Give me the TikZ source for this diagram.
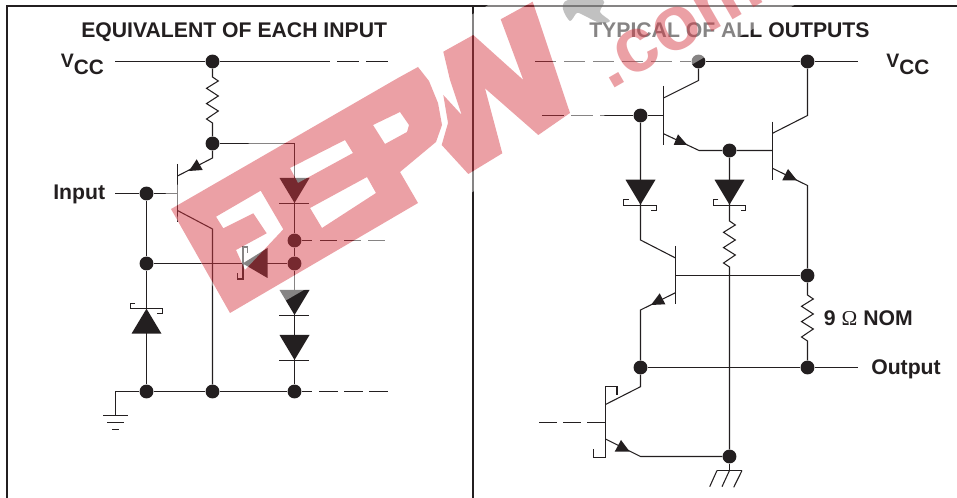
\documentclass[tikz,border=0pt]{standalone}
\usepackage{fontspec}
\setmainfont{Liberation Sans}
\newfontfamily\omegafont{Liberation Serif}
\definecolor{ink}{RGB}{35,31,32}
\definecolor{wm}{RGB}{213,53,64}
\tikzset{
  wire/.style={draw=ink,line width=0.8pt,line join=miter},
  frameline/.style={draw=ink,line width=1.6pt},
  dot/.style={circle,fill=ink,inner sep=0pt,minimum size=10.4pt,draw=none},
  tri/.style={fill=ink,draw=none},
  dashA/.style={wire,dash pattern=on 16.5pt off 5.25pt},
  dashC/.style={wire,dash pattern=on 14.25pt off 4.5pt},
  lab/.style={inner sep=0pt,anchor=base west,text=ink,font=\fontsize{15.9pt}{17pt}\selectfont\bfseries},
  wmfill/.style={fill=wm,opacity=.47,draw=none},
  halo/.style={fill=white,opacity=.45,draw=none,even odd rule},
}
\newcommand{\downdiode}[2]{\fill[tri] (#1-15,#2) -- (#1+15,#2) -- (#1,#2+25) -- cycle;}
\newcommand{\rzig}[2]{(#1,#2) -- (#1+5.8,#2+4) -- (#1-6,#2+11.3) -- (#1+5.8,#2+19) -- (#1-6,#2+26.6) -- (#1+5.8,#2+34) -- (#1-6,#2+42) -- (#1,#2+46)}
\newcommand{\vcctext}{{\fontsize{14.6pt}{15pt}\selectfont V}\raisebox{-4.6pt}{\fontsize{15.6pt}{15pt}\selectfont CC}}
\begin{document}
\begin{tikzpicture}[x=0.75pt,y=-0.75pt]
\useasboundingbox (0,0) rectangle (957,498);
% frame
\coordinate (ftl) at (7,6); \coordinate (fbl) at (7,498); \coordinate (ftr) at (957,6);
\coordinate (fmt) at (472.7,6); \coordinate (fmb) at (472.7,498);
\draw[frameline] (fbl) -- (ftl) -- (ftr);
\draw[frameline] (fmt) -- (fmb);
% titles
\node[lab] (t1) at (81,37.7) {EQUIVALENT OF EACH INPUT};
\node[lab] (t2) at (589,37.7) {TYPICAL OF ALL OUTPUTS};
\node[lab] (vl) at (60.5,68) {\vcctext};
\node[lab] (vr) at (886,68) {\vcctext};
\node[lab] (inp) at (53,200) {Input};
\node[lab] (outp) at (871,375) {Output};
\node[lab] (nom) at (823.7,326) {9 {\omegafont\mdseries\char"03A9} NOM};
% ---- left circuit ----
\node[dot] (a1) at (212.5,61.5) {};
\node[dot] (a2) at (212.5,143.5) {};
\node[dot] (a3) at (146.5,193.5) {};
\node[dot] (a4) at (146.5,263.5) {};
\node[dot] (a5) at (294.5,240.5) {};
\node[dot] (a6) at (294.5,263.5) {};
\node[dot] (a7) at (146.5,391.5) {};
\node[dot] (a8) at (212.5,391.5) {};
\node[dot] (a9) at (294.5,391.5) {};
\coordinate (avs) at (115,61.5); \coordinate (ave) at (330,61.5); \coordinate (avd) at (337,61.5); \coordinate (avf) at (388,61.5);
\draw[wire] (avs) -- (a1) -- (ave);
\draw[dashA] (avd) -- (avf);
% resistor
\draw[wire] (a1) -- \rzig{212.5}{77} -- (a2);
% top right branch and diodes
\coordinate (ac) at (294.5,143.5);
\draw[wire] (a2) -- (ac) -- (a5) -- (a6);
\coordinate (a5d) at (312,240.5); \coordinate (a5e) at (320,240.5); \coordinate (a5f) at (388,240.5);
\draw[wire] (a5) -- (a5d);
\draw[wire,dash pattern=on 12.75pt off 5.25pt] (a5e) -- (a5f);
\draw[wire] (a6) -- (a9);
\downdiode{294.5}{178}
\draw[wire] (279,203.5) -- (309,203.5);
\downdiode{294.5}{290}
\draw[wire] (279,315.5) -- (309,315.5);
\downdiode{294.5}{335}
\draw[wire] (279,360.5) -- (309,360.5);
% input
\coordinate (ainp) at (115,193.5); \coordinate (ab) at (177.5,193.5);
\draw[wire] (ainp) -- (a3) -- (ab);
\draw[wire] (a3) -- (a4) -- (a7);
% transistor
\coordinate (abt) at (177.5,164); \coordinate (abb) at (177.5,222.5);
\draw[wire] (abt) -- (abb);
\coordinate (ae1) at (177.5,176); \coordinate (ae2) at (212.5,158);
\draw[wire] (ae1) -- (ae2) -- (a2);
\fill[tri] (196.7,159.3) -- (202.7,170) -- (189,171) -- cycle;
\coordinate (ac1) at (177.5,210.5); \coordinate (ac2) at (212.5,229);
\draw[wire] (ac1) -- (ac2) -- (a8);
% left schottky
\draw[wire] (a4) -- (a6);
\fill[tri] (242.7,263.5) -- (267.5,248) -- (267.5,278) -- cycle;
\draw[wire] (247.5,253) -- (247.5,247) -- (243,247) -- (243,279) -- (237.5,279) -- (237.5,273);
% zener
\fill[tri] (131.5,333.7) -- (161.5,333.7) -- (146.5,308.7) -- cycle;
\draw[wire] (135,303.5) -- (130.5,303.5) -- (130.5,308.5) -- (162.5,308.5) -- (162.5,313.5) -- (157,313.5);
% bottom
\coordinate (ag) at (115.5,391.5); \coordinate (agb) at (115.5,415);
\coordinate (a9d) at (312,391.5); \coordinate (a9e) at (319,391.5); \coordinate (a9f) at (388,391.5);
\draw[wire] (agb) -- (ag) -- (a7) -- (a8) -- (a9) -- (a9d);
\draw[dashC] (a9e) -- (a9f);
\draw[wire] (103,415.5) -- (128,415.5);
\draw[wire] (107,422.5) -- (124,422.5);
\draw[wire] (112,429.5) -- (119,429.5);
% ---- right circuit ----
\node[dot] (b1) at (698.5,61.5) {};
\node[dot] (b2) at (807.5,61.5) {};
\node[dot] (b3) at (640.5,115.5) {};
\node[dot] (b4) at (729.5,150.5) {};
\node[dot] (b5) at (807.5,275.5) {};
\node[dot] (b6) at (640.5,367.5) {};
\node[dot] (b7) at (807.5,367.5) {};
\node[dot] (b8) at (729.5,456.5) {};
\coordinate (bvs) at (535,61.5); \coordinate (bve) at (858,61.5);
\draw[wire,dash pattern=on 15.75pt off 6pt] (bvs) -- (b1);
\draw[wire] (b1) -- (b2) -- (bve);
% Q1
\coordinate (q1t) at (663.5,86); \coordinate (q1b) at (663.5,145);
\draw[wire] (q1t) -- (q1b);
\coordinate (q1c) at (663.5,98); \coordinate (q1cc) at (698.5,80.5);
\draw[wire] (q1c) -- (q1cc) -- (b1);
\coordinate (q1e) at (663.5,133.7); \coordinate (q1ee) at (699,150.5);
\coordinate (q2bb) at (772.5,150.5);
\draw[wire] (q1e) -- (q1ee) -- (b4) -- (q2bb);
\fill[tri] (678,134.3) -- (687.3,145) -- (673.7,145) -- cycle;
\coordinate (q1in) at (542,115.5); \coordinate (q1ind) at (600,115.5); \coordinate (q1base) at (663.5,115.5);
\draw[wire,dash pattern=on 16.5pt off 5.25pt] (q1in) -- (q1ind);
\draw[wire] (q1ind) -- (b3) -- (q1base);
% Q2
\coordinate (q2t) at (772.5,121.7); \coordinate (q2b) at (772.5,180);
\draw[wire] (q2t) -- (q2b);
\coordinate (q2c) at (772.5,133.3); \coordinate (q2cc) at (807.5,115.5);
\draw[wire] (q2c) -- (q2cc) -- (b2);
\coordinate (q2e) at (772.5,168.3); \coordinate (q2ee) at (807.5,185.5);
\draw[wire] (q2e) -- (q2ee) -- (b5);
\fill[tri] (788,169) -- (797,180.3) -- (782.3,180.3) -- cycle;
% schottky diodes
\downdiode{640.5}{179.7}
\draw[wire] (628.7,199.5) -- (623.5,199.5) -- (623.5,205.5) -- (656.5,205.5) -- (656.5,210.5) -- (651,210.5);
\downdiode{729.5}{179.7}
\draw[wire] (718.4,199.5) -- (713.5,199.5) -- (713.5,205.5) -- (745.5,205.5) -- (745.5,210.5) -- (740.7,210.5);
% Q3
\coordinate (q3t) at (675.5,246); \coordinate (q3b) at (675.5,304.3);
\draw[wire] (q3t) -- (q3b);
\coordinate (q3cc) at (640.5,240); \coordinate (q3c) at (675.5,258);
\draw[wire] (b3) -- (q3cc) -- (q3c);
\coordinate (q3base) at (675.5,275.5);
\draw[wire] (q3base) -- (b5);
\coordinate (q3e) at (675.5,292.7); \coordinate (q3ee) at (640.5,310);
\draw[wire] (q3e) -- (q3ee) -- (b6);
\fill[tri] (659.7,293.3) -- (665.3,304.3) -- (651,305) -- cycle;
% mid resistor to ground
\draw[wire] (b4) -- \rzig{729.5}{221} -- (b8);
\coordinate (bg) at (729.5,470.5);
\draw[wire] (b8) -- (bg);
\draw[wire] (717,470.5) -- (742,470.5);
\draw[wire] (717,470.5) -- (709.7,486.7);
\draw[wire] (729.5,470.5) -- (722,486.7);
\draw[wire] (742,470.5) -- (733.7,487.3);
% R 9
\draw[wire] (b5) -- \rzig{807.5}{295} -- (b7);
% output
\coordinate (bout) at (858,367.5);
\draw[wire] (b6) -- (b7) -- (bout);
% Q4
\draw[wire] (617,395) -- (617,386.5) -- (605.5,386.5) -- (605.5,457.5) -- (593.5,457.5) -- (593.5,449.3);
\coordinate (q4c) at (605.5,404.5); \coordinate (q4cc) at (640.5,386.7);
\draw[wire] (q4c) -- (q4cc) -- (b6);
\coordinate (q4e) at (605.5,439); \coordinate (q4ee) at (640.5,456.5);
\draw[wire] (q4e) -- (q4ee) -- (b8);
\fill[tri] (621,440) -- (629.7,451.7) -- (614.7,451.7) -- cycle;
\coordinate (q4in) at (539,422.5); \coordinate (q4base) at (605.5,422.5);
\draw[wire,dash pattern=on 13.5pt off 4.5pt] (q4in) -- (q4base);
% ---- watermark ----
\def\EPouter{(171,209) -- (398,78) -- (418,67) -- (429,81) -- (438,103) -- (442,125) -- (436,142) -- (400,172) -- (418,203) -- (230,313) -- cycle}
\def\Pcounter{(373,125) -- (400,112) -- (409,125) -- (407,132) -- (385,144) -- cycle}
\def\holeA{(290,168) -- (345,140) -- (353,153) -- (298,183) -- cycle}
\def\holeB{(310,208) -- (367,177) -- (376,193) -- (322,228) -- cycle}
\def\holeC{(216,216.7) -- (260.7,190.7) -- (283.3,229.3) -- (245,270) -- (236,250) -- (266.7,233.3) -- (253.3,213.3) -- (223.3,228.3) -- cycle}
\def\Wshape{(443.3,51.7) -- (450,80) -- (461.7,115) -- (443.3,95) -- (448,123) -- (441.7,145) -- (468.3,174) -- (502.3,153.3) -- (485,88.3) -- (538.3,135) -- (570,113) -- (532.7,1.7) -- (500.7,19.3) -- (523.3,80) -- (473.3,35) -- cycle}
\fill[halo] (165,192) -- (497,0) -- (803,0) -- (235,330) -- cycle \EPouter \Pcounter \holeA \holeB \holeC \Wshape;
\fill[wmfill,even odd rule] \EPouter \Pcounter \holeA \holeB \holeC;
\fill[wmfill] \Wshape;
\node[inner sep=0pt,anchor=base west,rotate=30,text=wm,text opacity=.47,font=\fontsize{58pt}{60pt}\selectfont\bfseries] (wmc) at (610,90.8) {.com};
\fill[black!60,opacity=.4] plot[smooth cycle] coordinates {(568,0) (563,9) (570,21) (577,13) (585,16) (600,23) (610,21) (600,12) (603,0)};
\end{tikzpicture}
\end{document}
